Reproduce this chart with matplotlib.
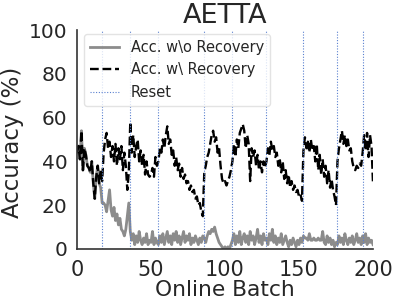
import matplotlib
matplotlib.use("Agg")
import matplotlib.pyplot as plt
import numpy as np

# online batch index
batches = np.arange(201)

# accuracy without recovery (same as the other run until the first reset)
acc_no_recovery = [
    44, 47, 41, 54, 36, 46, 43, 38, 37, 35, 40, 30, 23, 33, 38, 30, 28, 21,
    21, 20, 17, 22, 27, 18, 15, 19, 13, 16, 11, 14, 9, 8, 6, 9, 15, 21,
    8, 4, 7, 2, 6, 3, 8, 4, 2, 5, 3, 7, 2, 4, 3, 8, 2, 5, 3,
    2, 6, 3, 7, 2, 5, 8, 3, 6, 2, 7, 4, 8, 3, 6, 2, 5, 8, 3, 6, 4, 7, 2, 5,
    3, 6, 4, 2, 5, 3, 6,
    5, 3, 6, 8, 7, 9, 8, 10, 7, 5, 3, 2, 1, 0, 1, 0, 1, 0, 2,
    4, 7, 2, 6, 3, 8, 2, 5, 7, 3, 6, 2, 8, 4, 6, 2, 5, 9, 3, 6, 2, 7, 4,
    5, 2, 7, 4, 9, 3, 6, 2, 5, 3, 7, 2, 4, 6, 3, 1, 4, 2, 5, 3, 1, 4, 2, 5, 3,
    6, 5, 5, 4, 7, 4, 4, 5, 4, 4, 5, 4, 4, 8, 3, 2, 6, 3, 5, 2, 4, 1, 3,
    2, 6, 3, 5, 2, 7, 4, 2, 5, 3, 6, 2, 4, 7, 3, 5, 2,
    6, 3, 7, 2, 5, 3, 4, 2,
]

# accuracy with recovery
acc_recovery = [
    44, 47, 41, 54, 36, 46, 43, 38, 37, 35, 40, 30, 23, 33, 38, 30, 36, 31,
    44, 50, 53, 46, 49, 42, 47, 40, 48, 38, 46, 41, 47, 36, 44, 38, 27, 35,
    58, 44, 52, 42, 47, 50, 40, 45, 38, 43, 34, 40, 34, 33, 34, 37, 33, 42, 38,
    40, 46, 44, 50, 46, 52, 56, 48, 50, 43, 45, 38, 42, 36, 39, 33, 37, 32, 34,
    30, 31, 27, 29, 26, 27, 23, 24, 20, 21, 17, 15,
    35, 38, 42, 44, 48, 52, 54, 49, 51, 44, 46, 38, 32, 30, 31, 29, 31, 33, 36,
    40, 48, 42, 50, 46, 53, 55, 57, 54, 46, 52, 48, 31, 46, 42, 45, 38, 43, 36,
    40, 35, 40, 37,
    40, 46, 43, 49, 45, 47, 42, 44, 38, 41, 35, 40, 32, 36, 30, 34, 28, 31, 27,
    29, 26, 27, 24, 25, 22,
    45, 51, 46, 49, 44, 50, 45, 47, 40, 48, 36, 43, 34, 41, 33, 38, 30, 36, 28,
    32, 27, 24, 20,
    40, 46, 50, 54, 48, 52, 47, 50, 45, 46, 40, 37, 36, 38, 37, 39, 38,
    44, 52, 45, 53, 42, 52, 47, 30,
]

# batches where the model was reset
reset_points = [17, 36, 55, 86, 105, 128, 153, 176, 193]

text_color = "#262626"
plt.rcParams["font.family"] = ["DejaVu Sans"]

fig = plt.figure(figsize=(3.95, 3.06), dpi=100)
ax = fig.add_axes([77 / 395, 1 - 249 / 306, 296 / 395, 219 / 306])

ax.plot(batches, acc_no_recovery, color="#8c8c8c", linewidth=2, label="Acc. w\\o Recovery")
ax.plot(batches, acc_recovery, color="black", linestyle="--", linewidth=1.7,
        label="Acc. w\\ Recovery")
for i, r in enumerate(reset_points):
    ax.axvline(r, color="#5a80d0", linestyle=(0, (1, 1.5)), linewidth=0.8,
               label="Reset" if i == 0 else None)

ax.set_xlim(0, 200)
ax.set_ylim(0, 100)
ax.set_xticks([0, 50, 100, 150, 200])
ax.set_yticks([0, 20, 40, 60, 80, 100])
ax.tick_params(axis="x", length=0, labelsize=15, colors=text_color, pad=8)
ax.tick_params(axis="y", length=0, labelsize=14.5, colors=text_color, pad=7)
ax.set_xlabel("Online Batch", fontsize=15.7, color=text_color, labelpad=0)
ax.set_ylabel("Accuracy (%)", fontsize=16.5, color=text_color)
ax.yaxis.set_label_coords(-0.178, 0.485)
ax.set_title("AETTA", fontsize=19.5, color=text_color, pad=5)

for side in ["top", "right"]:
    ax.spines[side].set_visible(False)
for side in ["left", "bottom"]:
    ax.spines[side].set_color("#333333")
    ax.spines[side].set_linewidth(1.2)

leg = ax.legend(loc="upper left", fontsize=10.5, frameon=True,
                borderaxespad=0.3, bbox_to_anchor=(0.01, 1.0))
leg.get_frame().set_edgecolor("#dddddd")
for t in leg.get_texts():
    t.set_color(text_color)

fig.savefig("out.png", dpi=100)
